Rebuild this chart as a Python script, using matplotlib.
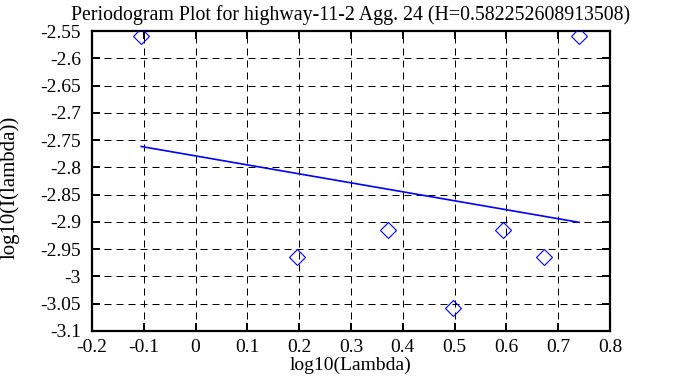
import numpy as np
import matplotlib.pyplot as plt

plt.rcParams['font.family'] = ['Liberation Serif', 'DejaVu Serif']
plt.rcParams['font.size'] = 14

# Periodogram punkter (log10)
log_lambda = [-0.105, 0.196, 0.372, 0.497, 0.594, 0.673, 0.740]
log_I = [-2.559, -2.964, -2.915, -3.058, -2.915, -2.964, -2.559]

# Tilpasset linje: stigning = 1 - 2H
H = 0.582252608913508
slope = 1 - 2 * H
intercept = -2.779
fit_x = np.array([log_lambda[0], log_lambda[-1]])
fit_y = intercept + slope * fit_x

fig = plt.figure(figsize=(6.73, 3.87), dpi=100)
ax = fig.add_subplot(111)
fig.subplots_adjust(left=92/673, right=610/673, top=1-31/387, bottom=1-331/387)

ax.plot(log_lambda, log_I, linestyle="", marker="D", ms=8, mfc="none",
        mec="blue", mew=0.8, zorder=3)
ax.plot(fit_x, fit_y, color="blue", lw=1.2, zorder=3)

ax.set_xlim(-0.2, 0.8)
ax.set_ylim(-3.1, -2.55)
ax.set_xticks(np.arange(-0.2, 0.81, 0.1))
ax.set_yticks(np.arange(-3.1, -2.549, 0.05))
ax.set_xticklabels(["-0.2", "-0.1", "0", "0.1", "0.2", "0.3", "0.4", "0.5", "0.6", "0.7", "0.8"])
ax.set_yticklabels(["-3.1", "-3.05", "-3", "-2.95", "-2.9", "-2.85", "-2.8", "-2.75",
                    "-2.7", "-2.65", "-2.6", "-2.55"])
ax.tick_params(direction="in", length=6, width=1.4, top=True, right=True,
               labelsize=14)
ax.tick_params(axis="y", pad=8)
ax.tick_params(axis="x", pad=6)
for s in ax.spines.values():
    s.set_linewidth(1.6)
ax.grid(True, color="black", linestyle=(0, (7, 5)), linewidth=0.72)

ax.set_title("Periodogram Plot for highway-11-2 Agg. 24 (H=0.582252608913508)",
             fontsize=14.3, pad=8)
ax.set_xlabel("log10(Lambda)", fontsize=14, labelpad=0)
ax.set_ylabel("log10(I(lambda))", fontsize=15)
ax.yaxis.set_label_coords(-0.14, 0.478)

plt.savefig("out.png", dpi=100)
